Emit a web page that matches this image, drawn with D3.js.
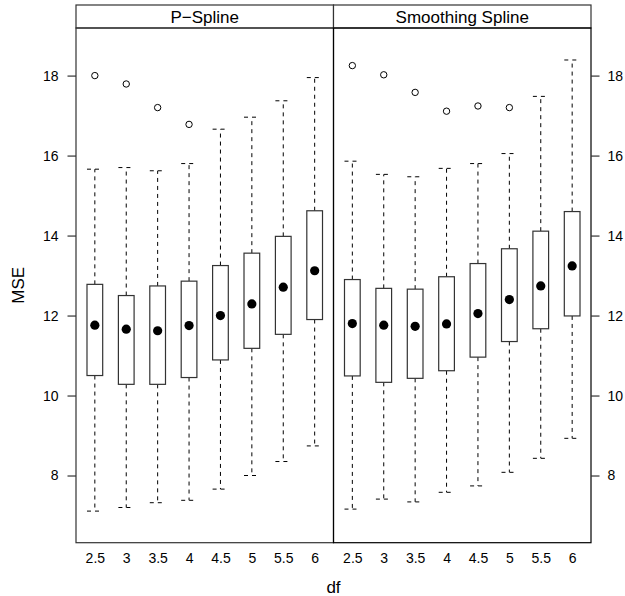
<!DOCTYPE html>
<html>
<head>
<meta charset="utf-8">
<script src="https://cdn.jsdelivr.net/npm/d3@7"></script>
<style>
  body { margin: 0; background: #fff; }
  svg { display: block; font-family: "Liberation Sans", Arial, Helvetica, sans-serif; }
</style>
</head>
<body>
<svg id="chart"></svg>
<script>
// degrees of freedom (x categories)
const dfLevels = ["2.5", "3", "3.5", "4", "4.5", "5", "5.5", "6"];
const methods = ["P\u2212Spline", "Smoothing Spline"];

// P-Spline box stats
const psLow   = [7.11, 7.20, 7.32, 7.38, 7.66, 8.00, 8.35, 8.74];
const psQ1    = [10.50, 10.28, 10.28, 10.45, 10.89, 11.18, 11.53, 11.90];
const psMed   = [11.76, 11.66, 11.62, 11.75, 12.00, 12.29, 12.71, 13.12];
const psQ3    = [12.78, 12.50, 12.74, 12.86, 13.25, 13.56, 13.98, 14.62];
const psHigh  = [15.66, 15.70, 15.62, 15.80, 16.66, 16.96, 17.37, 17.95];
const psOut   = [[18.00], [17.79], [17.20], [16.78], [], [], [], []];

// Smoothing spline box stats
const ssLow   = [7.16, 7.41, 7.34, 7.58, 7.74, 8.08, 8.43, 8.93];
const ssQ1    = [10.49, 10.33, 10.43, 10.62, 10.96, 11.35, 11.67, 11.99];
const ssMed   = [11.80, 11.76, 11.73, 11.79, 12.05, 12.40, 12.74, 13.24];
const ssQ3    = [12.90, 12.68, 12.66, 12.97, 13.30, 13.67, 14.11, 14.60];
const ssHigh  = [15.86, 15.53, 15.47, 15.68, 15.80, 16.05, 17.48, 18.39];
const ssOut   = [[18.25], [18.02], [17.58], [17.11], [17.24], [17.20], [], []];

const yTicks = [8, 10, 12, 14, 16, 18];

const width = 625, height = 596;
const left = 76, right = 591, stripTop = 5, stripBottom = 28, bottom = 542.7;
const panelW = (right - left) / 2;

const svg = d3.select("#chart").attr("width", width).attr("height", height);

const y = d3.scaleLinear().domain([6.32, 19.19]).range([bottom, stripBottom]);

function stats(low, q1, med, q3, high, out) {
  return dfLevels.map((d, i) => ({ df: d, low: low[i], q1: q1[i], med: med[i], q3: q3[i], high: high[i], out: out[i] }));
}
const panels = [stats(psLow, psQ1, psMed, psQ3, psHigh, psOut), stats(ssLow, ssQ1, ssMed, ssQ3, ssHigh, ssOut)];

const lineCol = "#333";

panels.forEach((data, p) => {
  const px0 = left + p * panelW;
  const x = d3.scalePoint().domain(dfLevels).range([px0, px0 + panelW]).padding(0.6);
  const boxW = x.step() * 0.5;
  const g = svg.append("g");

  // whiskers (dashed)
  data.forEach(d => {
    const cx = x(d.df);
    [[d.q3, d.high], [d.q1, d.low]].forEach(([a, b]) => {
      g.append("line").attr("x1", cx).attr("x2", cx).attr("y1", y(a)).attr("y2", y(b))
        .attr("stroke", "#000").attr("stroke-width", 1).attr("stroke-dasharray", "4,4");
      g.append("line").attr("x1", cx - boxW / 2).attr("x2", cx + boxW / 2).attr("y1", y(b)).attr("y2", y(b))
        .attr("stroke", "#000").attr("stroke-width", 1).attr("stroke-dasharray", "4,4");
    });
  });

  // boxes
  g.selectAll("rect.box").data(data).enter().append("rect")
    .attr("x", d => x(d.df) - boxW / 2)
    .attr("y", d => y(d.q3))
    .attr("width", boxW)
    .attr("height", d => y(d.q1) - y(d.q3))
    .attr("fill", "#fff")
    .attr("stroke", lineCol)
    .attr("stroke-width", 1.2);

  // medians
  g.selectAll("circle.med").data(data).enter().append("circle")
    .attr("cx", d => x(d.df)).attr("cy", d => y(d.med)).attr("r", 4.6).attr("fill", "#000");

  // outliers
  data.forEach(d => {
    d.out.forEach(v => {
      g.append("circle").attr("cx", x(d.df)).attr("cy", y(v)).attr("r", 3.2)
        .attr("fill", "none").attr("stroke", "#000").attr("stroke-width", 1);
    });
  });

  // x tick labels
  const xa = svg.append("g").attr("transform", `translate(0,${bottom})`)
    .call(d3.axisBottom(x).tickSize(0).tickPadding(10));
  xa.select(".domain").remove();
  xa.selectAll("text").style("font-size", "14px").attr("fill", "#000");

  // strip
  svg.append("rect").attr("x", px0).attr("y", stripTop).attr("width", panelW).attr("height", stripBottom - stripTop)
    .attr("fill", "#fff").attr("stroke", lineCol).attr("stroke-width", 1.2);
  svg.append("text").attr("x", px0 + panelW / 2).attr("y", (stripTop + stripBottom) / 2)
    .attr("dy", "0.36em").attr("text-anchor", "middle").style("font-size", "17px").text(methods[p]);

  // panel border
  svg.append("rect").attr("x", px0).attr("y", stripBottom).attr("width", panelW).attr("height", bottom - stripBottom)
    .attr("fill", "none").attr("stroke", p === 0 ? lineCol : "#000").attr("stroke-width", 1.2);
});

// y axes
const yl = svg.append("g").attr("transform", `translate(${left},0)`)
  .call(d3.axisLeft(y).tickValues(yTicks).tickSize(8.5).tickPadding(9));
const yr = svg.append("g").attr("transform", `translate(${right},0)`)
  .call(d3.axisRight(y).tickValues(yTicks).tickSize(8.5).tickPadding(8));
[yl, yr].forEach(a => {
  a.select(".domain").remove();
  a.selectAll("line").attr("stroke", lineCol).attr("stroke-width", 1.2);
  a.selectAll("text").style("font-size", "14px").attr("fill", "#000");
});

// axis titles
svg.append("text").attr("x", (left + right) / 2).attr("y", 587).attr("dy", "0.36em")
  .attr("text-anchor", "middle").style("font-size", "17px").text("df");
svg.append("text").attr("transform", `translate(18,${(stripBottom + bottom) / 2}) rotate(-90)`)
  .attr("dy", "0.36em").attr("text-anchor", "middle").style("font-size", "17px").text("MSE");
</script>
</body>
</html>
